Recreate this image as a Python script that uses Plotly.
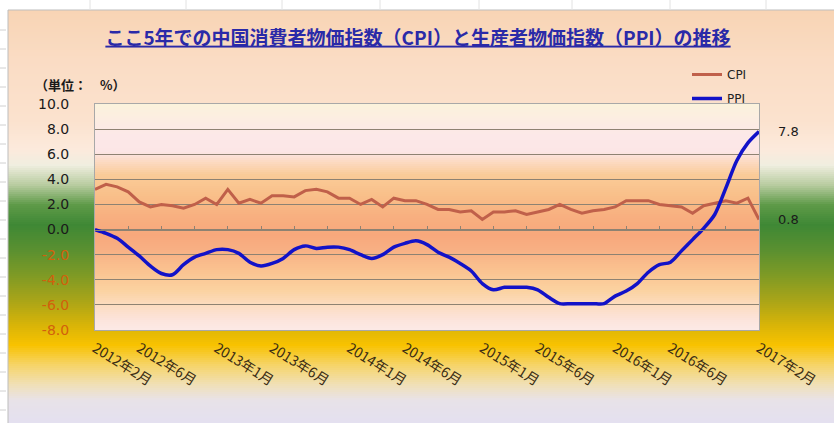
import plotly.graph_objects as go

# ---------------- data ----------------
years_months = [(2012, m) for m in range(2, 13)] + [(y, m) for y in (2013, 2014, 2015, 2016) for m in range(1, 13)] + [(2017, 1), (2017, 2)]
months = [f"{y}年{m}月" for y, m in years_months]

cpi = [3.2, 3.6, 3.4, 3.0, 2.2, 1.8, 2.0, 1.9, 1.7, 2.0, 2.5,
       2.0, 3.2, 2.1, 2.4, 2.1, 2.7, 2.7, 2.6, 3.1, 3.2, 3.0, 2.5,
       2.5, 2.0, 2.4, 1.8, 2.5, 2.3, 2.3, 2.0, 1.6, 1.6, 1.4, 1.5,
       0.8, 1.4, 1.4, 1.5, 1.2, 1.4, 1.6, 2.0, 1.6, 1.3, 1.5, 1.6,
       1.8, 2.3, 2.3, 2.3, 2.0, 1.9, 1.8, 1.3, 1.9, 2.1, 2.3, 2.1,
       2.5, 0.8]

ppi = [0.0, -0.3, -0.7, -1.4, -2.1, -2.9, -3.5, -3.6, -2.8, -2.2, -1.9,
       -1.6, -1.6, -1.9, -2.6, -2.9, -2.7, -2.3, -1.6, -1.3, -1.5, -1.4, -1.4,
       -1.6, -2.0, -2.3, -2.0, -1.4, -1.1, -0.9, -1.2, -1.8, -2.2, -2.7, -3.3,
       -4.3, -4.8, -4.6, -4.6, -4.6, -4.8, -5.4, -5.9, -5.9, -5.9, -5.9, -5.9,
       -5.3, -4.9, -4.3, -3.4, -2.8, -2.6, -1.7, -0.8, 0.1, 1.2, 3.3, 5.5,
       6.9, 7.8]

x_tick_labels = ["2012年2月", "2012年6月", "2013年1月", "2013年6月", "2014年1月", "2014年6月",
                 "2015年1月", "2015年6月", "2016年1月", "2016年6月", "2017年2月"]
y_ticks = [10.0, 8.0, 6.0, 4.0, 2.0, 0.0, -2.0, -4.0, -6.0, -8.0]

title_text = "ここ5年での中国消費者物価指数（CPI）と生産者物価指数（PPI）の推移"
unit_text = "（単位：　%）"

# ---------------- geometry / style ----------------
W, H = 834, 423
PL, PR, PT, PB = 95, 759, 104, 330
JP = "Noto Sans CJK JP"


def px2paper(xp, yp):
    return (xp - PL) / (PR - PL), (PB - yp) / (PB - PT)


def hex2rgb(h):
    h = h.lstrip('#')
    return tuple(int(h[i:i + 2], 16) for i in (0, 2, 4))


def interp(stops, y):
    if y <= stops[0][0]:
        return hex2rgb(stops[0][1])
    for (y0, c0), (y1, c1) in zip(stops, stops[1:]):
        if y0 <= y <= y1:
            t = (y - y0) / (y1 - y0)
            a, b = hex2rgb(c0), hex2rgb(c1)
            return tuple(round(a[i] + (b[i] - a[i]) * t) for i in range(3))
    return hex2rgb(stops[-1][1])


def bands(x0, x1, y0, y1, stops, step=2):
    out = []
    y = y0
    while y < y1:
        ye = min(y + step, y1)
        c = interp(stops, (y + ye) / 2)
        ax, ay = px2paper(x0, y)
        bx, by = px2paper(x1, ye + 0.6)
        out.append(dict(type="rect", xref="paper", yref="paper", x0=ax, x1=bx, y0=ay, y1=by,
                        fillcolor=f"rgb{c}", line=dict(width=0), layer="below"))
        y = ye
    return out


outer_stops = [(10, "#F8D4B4"), (60, "#FADCC4"), (120, "#FBE2CE"), (150, "#FCEADC"), (165, "#F0EEE0"),
               (185, "#B8CCA0"), (205, "#5E9A48"), (225, "#3F8835"), (250, "#5A9030"), (275, "#7E9A25"),
               (300, "#A8A418"), (325, "#D8B408"), (345, "#F8C200"), (365, "#F6D468"), (385, "#F0E0B8"),
               (400, "#E8E2E8"), (423, "#E4E0F0")]
plot_stops = [(104, "#FBF2DC"), (120, "#FCEDE2"), (135, "#FCE8E8"), (152, "#FCE6E6"), (160, "#FCDCC8"),
              (175, "#FACB98"), (195, "#F9C08A"), (215, "#F8B080"), (235, "#F8A87C"), (250, "#F8B084"),
              (270, "#FAC290"), (290, "#FBD2A0"), (305, "#FCDCC0"), (320, "#FCE4DC"), (330, "#FCEAE6")]

shapes = []
shapes += bands(8, W, 10, H, outer_stops, 2)
shapes += bands(PL, PR, PT, PB, plot_stops, 2)
# chart frame
fx0, fy0 = px2paper(8, 10)
fx1, fy1 = px2paper(W + 5, H + 5)
shapes.append(dict(type="rect", xref="paper", yref="paper", x0=fx0, x1=fx1, y0=fy1, y1=fy0,
                   line=dict(color="#BDBDBD", width=1), fillcolor="rgba(0,0,0,0)", layer="below"))
# spreadsheet artefacts (column lines at top, row marks at left)
for xc in [90, 186, 282, 380, 479, 572, 670, 766]:
    a, b = px2paper(xc, 0)
    c, d = px2paper(xc, 10)
    shapes.append(dict(type="line", xref="paper", yref="paper", x0=a, x1=c, y0=b, y1=d,
                       line=dict(color="#E2E2E2", width=1), layer="below"))
for yr in range(30, 423, 19):
    a, b = px2paper(0, yr)
    c, d = px2paper(6, yr)
    shapes.append(dict(type="line", xref="paper", yref="paper", x0=a, x1=c, y0=b, y1=d,
                       line=dict(color="#D0D0D0", width=1), layer="below"))

CPI_COLOR = "#C0604A"
PPI_COLOR = "#1212C8"
GRID = "#8E8272"

fig = go.Figure()
fig.add_trace(go.Scatter(x=months, y=cpi, name="CPI", mode="lines",
                         line=dict(color=CPI_COLOR, width=3), legendgroup="a"))
fig.add_trace(go.Scatter(x=months, y=ppi, name="PPI", mode="lines",
                         line=dict(color=PPI_COLOR, width=3.5, shape="spline", smoothing=0.8), legendgroup="b"))
# helper trace for the zero-level category axis with tick marks
fig.add_trace(go.Scatter(x=[0], y=[0], xaxis="x2", mode="markers", marker=dict(opacity=0),
                         hoverinfo="skip", showlegend=False))

ytext = [f'<span style="color:#D2600C">{v:.1f}</span>' if v < 0 else f'<span style="color:#1A1A1A">{v:.1f}</span>'
         for v in y_ticks]

annotations = [
    dict(x=months[-1], y=ppi[-1], text=f"{ppi[-1]:.1f}", showarrow=False, xanchor="left", xshift=17,
         font=dict(family="DejaVu Sans", size=13, color="#1A1A1A")),
    dict(x=months[-1], y=cpi[-1], text=f"{cpi[-1]:.1f}", showarrow=False, xanchor="left", xshift=17,
         font=dict(family="DejaVu Sans", size=13, color="#1A1A1A")),
]
ux, uy = px2paper(33, 84)
annotations.append(dict(xref="paper", yref="paper", x=ux, y=uy, text=f"<b>{unit_text}</b>", showarrow=False,
                        xanchor="left", yanchor="middle", font=dict(family=JP, size=13, color="#1A1A1A")))

lx, ly = px2paper(687, 60)

fig.update_layout(
    width=W, height=H,
    margin=dict(l=PL, r=W - PR, t=PT, b=H - PB, pad=0),
    paper_bgcolor="white", plot_bgcolor="rgba(0,0,0,0)",
    shapes=shapes, annotations=annotations,
    title=dict(text=f"<b>{title_text}</b>", xref="container", yref="container", x=418 / W, y=1 - 38 / H,
               xanchor="center", yanchor="middle",
               font=dict(family=JP, size=19, color="#2A2AA8", lineposition="under")),
    showlegend=True,
    legend=dict(x=lx, y=ly, xanchor="left", yanchor="top", bgcolor="rgba(0,0,0,0)",
                font=dict(family="DejaVu Sans", size=12, color="#222"), tracegroupgap=5,
                itemwidth=30),
    xaxis=dict(type="category", range=[0, len(months) - 1], tickvals=x_tick_labels, ticktext=x_tick_labels,
               tickangle=32, ticks="", showgrid=False, zeroline=False,
               showline=True, mirror=True, linecolor="#A8A8A8", linewidth=1,
               ticklabelstandoff=4,
               tickfont=dict(family=JP, size=14, color="#3A2C14")),
    xaxis2=dict(type="linear", range=[0, len(months) - 1], overlaying="x", anchor="free", position=8 / 18,
                tickvals=list(range(0, len(months), 3)), ticks="inside", ticklen=4, tickcolor=GRID,
                showticklabels=False, showgrid=False, zeroline=False, showline=True, linecolor=GRID,
                linewidth=1),
    yaxis=dict(range=[-8, 10], tickvals=y_ticks, ticktext=ytext, showgrid=True, gridcolor=GRID, gridwidth=1,
               zeroline=False, showline=True, mirror=True, linecolor="#A8A8A8", linewidth=1,
               ticks="", ticklabelstandoff=22,
               tickfont=dict(family="DejaVu Sans", size=14)),
    hovermode=False,
)

fig.write_html("out.html")
